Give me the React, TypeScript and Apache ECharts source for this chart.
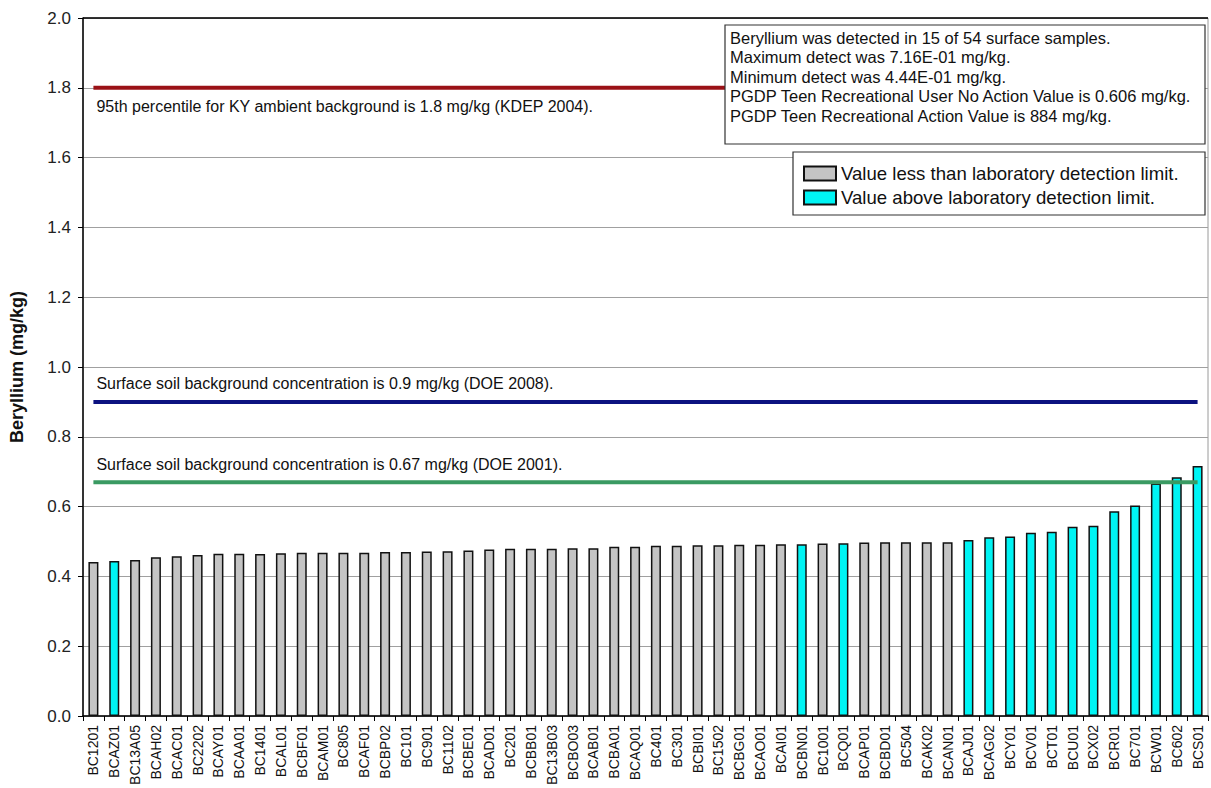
import React, { useEffect, useRef } from "react";
import * as echarts from "echarts";

const categories = [
  "BC1201", "BCAZ01", "BC13A05", "BCAH02", "BCAC01", "BC2202", "BCAY01", "BCAA01", "BC1401",
  "BCAL01", "BCBF01", "BCAM01", "BC805", "BCAF01", "BCBP02", "BC101", "BC901", "BC1102",
  "BCBE01", "BCAD01", "BC201", "BCBB01", "BC13B03", "BCBO03", "BCAB01", "BCBA01", "BCAQ01",
  "BC401", "BC301", "BCBI01", "BC1502", "BCBG01", "BCAO01", "BCAI01", "BCBN01", "BC1001",
  "BCQ01", "BCAP01", "BCBD01", "BC504", "BCAK02", "BCAN01", "BCAJ01", "BCAG02", "BCY01",
  "BCV01", "BCT01", "BCU01", "BCX02", "BCR01", "BC701", "BCW01", "BC602", "BCS01",
];

const values = [
  0.441, 0.444, 0.447, 0.455, 0.458, 0.461, 0.465, 0.465, 0.464,
  0.466, 0.468, 0.468, 0.468, 0.468, 0.47, 0.47, 0.471, 0.472,
  0.474, 0.477, 0.479, 0.479, 0.479, 0.481, 0.481, 0.485, 0.485,
  0.488, 0.488, 0.489, 0.489, 0.491, 0.491, 0.492, 0.492, 0.494,
  0.495, 0.497, 0.498, 0.498, 0.498, 0.498, 0.504, 0.512, 0.514,
  0.525, 0.528, 0.542, 0.545, 0.587, 0.603, 0.666, 0.684, 0.716,
];

const detectedSamples = [
  "BCAZ01", "BCBN01", "BCQ01", "BCAJ01", "BCAG02", "BCY01", "BCV01", "BCT01",
  "BCU01", "BCX02", "BCR01", "BC701", "BCW01", "BC602", "BCS01",
];

const referenceValues = [1.8, 0.9, 0.67];
const referenceColors = ["#9a1116", "#0c1280", "#3a9a62"];
const referenceTexts = [
  "95th percentile for KY ambient background is 1.8 mg/kg (KDEP 2004).",
  "Surface soil background concentration is 0.9 mg/kg (DOE 2008).",
  "Surface soil background concentration is 0.67 mg/kg (DOE 2001).",
];
const referenceTextBelow = [true, false, false];

const summaryLines = [
  "Beryllium was detected in 15 of 54 surface samples.",
  "Maximum detect was 7.16E-01 mg/kg.",
  "Minimum detect was 4.44E-01 mg/kg.",
  "PGDP Teen Recreational User No Action Value is 0.606 mg/kg.",
  "PGDP Teen Recreational Action Value is 884 mg/kg.",
];

const legendNames = [
  "Value less than laboratory detection limit.",
  "Value above laboratory detection limit.",
];

const yTicks = { min: 0, max: 2, interval: 0.2 };

const FONT = "'Liberation Sans', Arial, sans-serif";

export default function App() {
  const ref = useRef<HTMLDivElement>(null);

  useEffect(() => {
    if (!ref.current) return;
    const chart = echarts.init(ref.current, null, { renderer: "svg" });

    const nonDetect = categories.map((c, i) => (detectedSamples.includes(c) ? "-" : values[i]));
    const detect = categories.map((c, i) => (detectedSamples.includes(c) ? values[i] : "-"));

    const lineSeries = referenceValues.map((v, k) => ({
      type: "line",
      name: "ref" + k,
      data: categories.map(() => v),
      symbol: "none",
      silent: true,
      lineStyle: { color: referenceColors[k], width: 4 },
      z: 5,
    }));

    chart.setOption({
      animation: false,
      textStyle: { fontFamily: FONT },
      grid: { left: 78, right: 3, top: 18, bottom: 72, show: true, borderColor: "#9a9a9a", borderWidth: 1 },
      legend: {
        show: true,
        data: legendNames,
        orient: "vertical",
        left: 798,
        top: 159,
        itemWidth: 32,
        itemHeight: 14,
        itemGap: 5,
        icon: "rect",
        selectedMode: false,
        z: 150,
        textStyle: { fontSize: 18.6, color: "#111", fontFamily: FONT },
      },
      xAxis: {
        type: "category",
        data: categories,
        boundaryGap: true,
        axisLine: { lineStyle: { color: "#000", width: 1.5 } },
        axisTick: { show: true, alignWithLabel: false, length: 5, lineStyle: { color: "#000" } },
        axisLabel: { interval: 0, rotate: 90, fontSize: 14, color: "#111", margin: 9, fontFamily: FONT },
      },
      yAxis: {
        type: "value",
        min: yTicks.min,
        max: yTicks.max,
        interval: yTicks.interval,
        name: "Beryllium (mg/kg)",
        nameLocation: "middle",
        nameRotate: 90,
        nameGap: 57,
        nameTextStyle: { fontSize: 18, fontWeight: "bold", color: "#111", fontFamily: FONT },
        axisLine: { show: true, lineStyle: { color: "#000", width: 1.5 } },
        axisTick: { show: true, length: 5, lineStyle: { color: "#000" } },
        axisLabel: { fontSize: 17, color: "#222", margin: 12, formatter: (v: number) => v.toFixed(1), fontFamily: FONT },
        splitLine: { show: true, lineStyle: { color: "#a0a0a0", width: 1 } },
      },
      series: [
        {
          type: "bar",
          name: legendNames[0],
          stack: "s",
          data: nonDetect,
          barWidth: 10,
          itemStyle: { color: "#c4c4c4", borderColor: "#111", borderWidth: 1.5 },
          markLine: {
            silent: true,
            symbol: "none",
            label: { show: false },
            lineStyle: { color: "#000", width: 1.5, type: "solid" },
            data: [{ yAxis: yTicks.max }],
          },
        },
        {
          type: "bar",
          name: legendNames[1],
          stack: "s",
          data: detect,
          barWidth: 10,
          itemStyle: { color: "#00f4f4", borderColor: "#111", borderWidth: 1.5 },
        },
        ...lineSeries,
      ],
    });

    const graphics: any[] = [];
    referenceValues.forEach((v, k) => {
      const p = chart.convertToPixel({ gridIndex: 0 }, [0, v]) as number[];
      graphics.push({
        type: "text",
        x: p[0] + 3,
        y: referenceTextBelow[k] ? p[1] + 11 : p[1] - 10,
        z: 20,
        style: {
          text: referenceTexts[k],
          fontSize: 16,
          fontFamily: FONT,
          fill: "#111",
          verticalAlign: referenceTextBelow[k] ? "top" : "bottom",
        },
      });
    });

    graphics.push({
      type: "rect",
      x: 725,
      y: 25,
      z: 100,
      shape: { x: 0, y: 0, width: 480, height: 119 },
      style: { fill: "#fff", stroke: "#333", lineWidth: 1.2 },
    });
    graphics.push({
      type: "text",
      x: 730,
      y: 28,
      z: 101,
      style: {
        text: summaryLines.join("\n"),
        fontSize: 16.5,
        lineHeight: 19.5,
        fontFamily: FONT,
        fill: "#111",
      },
    });

    graphics.push({
      type: "rect",
      x: 793,
      y: 152,
      z: 100,
      shape: { x: 0, y: 0, width: 412, height: 63 },
      style: { fill: "#fff", stroke: "#333", lineWidth: 1.2 },
    });

    chart.setOption({ graphic: graphics });

    return () => chart.dispose();
  }, []);

  return (
    <div
      ref={ref}
      style={{ position: "fixed", left: 0, top: 0, width: 1211, height: 788, background: "#fff" }}
    />
  );
}
